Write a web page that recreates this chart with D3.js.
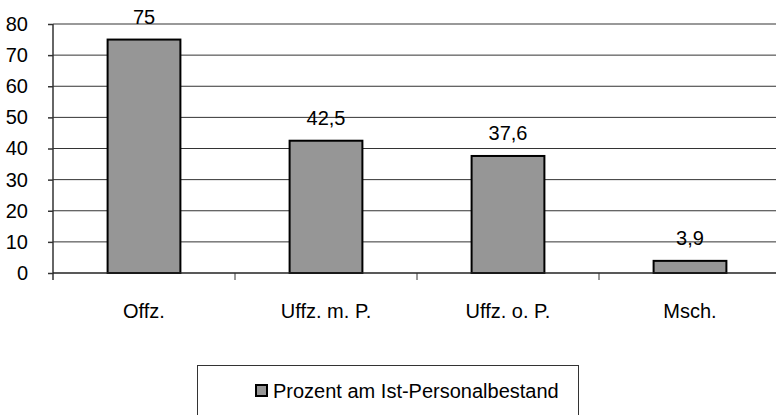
<!DOCTYPE html>
<html>
<head>
<meta charset="utf-8">
<script src="https://cdn.jsdelivr.net/npm/d3@7"></script>
<style>
  body { margin: 0; background: #fff; }
  svg { display: block; font-family: "Liberation Sans", Arial, sans-serif; }
</style>
</head>
<body>
<svg id="chart" width="776" height="415"></svg>
<script>
var categories = ["Offz.", "Uffz. m. P.", "Uffz. o. P.", "Msch."];
var values = [75, 42.5, 37.6, 3.9];
var valueLabels = ["75", "42,5", "37,6", "3,9"];
var yTicks = [0, 10, 20, 30, 40, 50, 60, 70, 80];
var legendLabel = "Prozent am Ist-Personalbestand";

var plot = { left: 53, top: 24, bottom: 273, right: 781 };
var fontSize = 20;

var svg = d3.select("#chart");

var x = d3.scaleBand()
    .domain(categories)
    .range([plot.left, plot.right]);

var y = d3.scaleLinear()
    .domain([0, 80])
    .range([plot.bottom, plot.top]);

//grid lines
svg.append("g").selectAll("line")
    .data(yTicks.filter(function(d) { return d > 0; }))
    .enter().append("line")
    .attr("x1", plot.left)
    .attr("x2", plot.right)
    .attr("y1", function(d) { return y(d); })
    .attr("y2", function(d) { return y(d); })
    .style("stroke", function(d) { return d == 80 ? "#999" : "#333"; })
    .style("stroke-width", function(d) { return d == 80 ? 2 : 1; });

//y axis
var yAxis = d3.axisLeft(y)
    .tickValues(yTicks)
    .tickSize(5);
var gy = svg.append("g")
    .attr("transform", "translate(" + plot.left + ",0)")
    .call(yAxis);
gy.select(".domain").remove();
gy.selectAll(".tick line").style("stroke", "#333").style("stroke-width", 1.5);
gy.selectAll("text")
    .attr("x", -25)
    .style("font-size", fontSize + "px")
    .style("font-family", "inherit")
    .attr("fill", "#000");
svg.append("line")
    .attr("x1", plot.left).attr("x2", plot.left)
    .attr("y1", plot.top).attr("y2", plot.bottom + 7)
    .style("stroke", "#333")
    .style("stroke-width", 1.5);

//bars
var bw = x.bandwidth();
svg.append("g").selectAll("rect")
    .data(values)
    .enter().append("rect")
    .attr("x", function(d, i) { return x(categories[i]) + bw * 0.3; })
    .attr("width", bw * 0.4)
    .attr("y", function(d) { return y(d); })
    .attr("height", function(d) { return y(0) - y(d); })
    .style("fill", "#969696")
    .style("stroke", "#000")
    .style("stroke-width", 2);

//x axis line and ticks
svg.append("line")
    .attr("x1", plot.left).attr("x2", plot.right)
    .attr("y1", plot.bottom).attr("y2", plot.bottom)
    .style("stroke", "#222")
    .style("stroke-width", 1.5);
svg.append("g").selectAll("line")
    .data(categories.slice(1))
    .enter().append("line")
    .attr("x1", function(d) { return x(d); })
    .attr("x2", function(d) { return x(d); })
    .attr("y1", plot.bottom)
    .attr("y2", plot.bottom + 7)
    .style("stroke", "#333")
    .style("stroke-width", 1);

//category labels
svg.append("g").selectAll("text")
    .data(categories)
    .enter().append("text")
    .attr("x", function(d) { return x(d) + bw / 2; })
    .attr("y", 318)
    .attr("text-anchor", "middle")
    .style("font-size", fontSize + "px")
    .text(function(d) { return d; });

//value labels
svg.append("g").selectAll("text")
    .data(values)
    .enter().append("text")
    .attr("x", function(d, i) { return x(categories[i]) + bw / 2; })
    .attr("y", function(d) { return y(d) - 16; })
    .attr("text-anchor", "middle")
    .style("font-size", fontSize + "px")
    .text(function(d, i) { return valueLabels[i]; });

//legend
var legend = svg.append("g");
legend.append("rect")
    .attr("x", 197.5).attr("y", 365.5)
    .attr("width", 381).attr("height", 70)
    .style("fill", "#fff")
    .style("stroke", "#333")
    .style("stroke-width", 1);
legend.append("rect")
    .attr("x", 256).attr("y", 385)
    .attr("width", 11).attr("height", 11)
    .style("fill", "#969696")
    .style("stroke", "#000")
    .style("stroke-width", 2);
legend.append("text")
    .attr("x", 273)
    .attr("y", 398)
    .style("font-size", fontSize + "px")
    .text(legendLabel);
</script>
</body>
</html>
